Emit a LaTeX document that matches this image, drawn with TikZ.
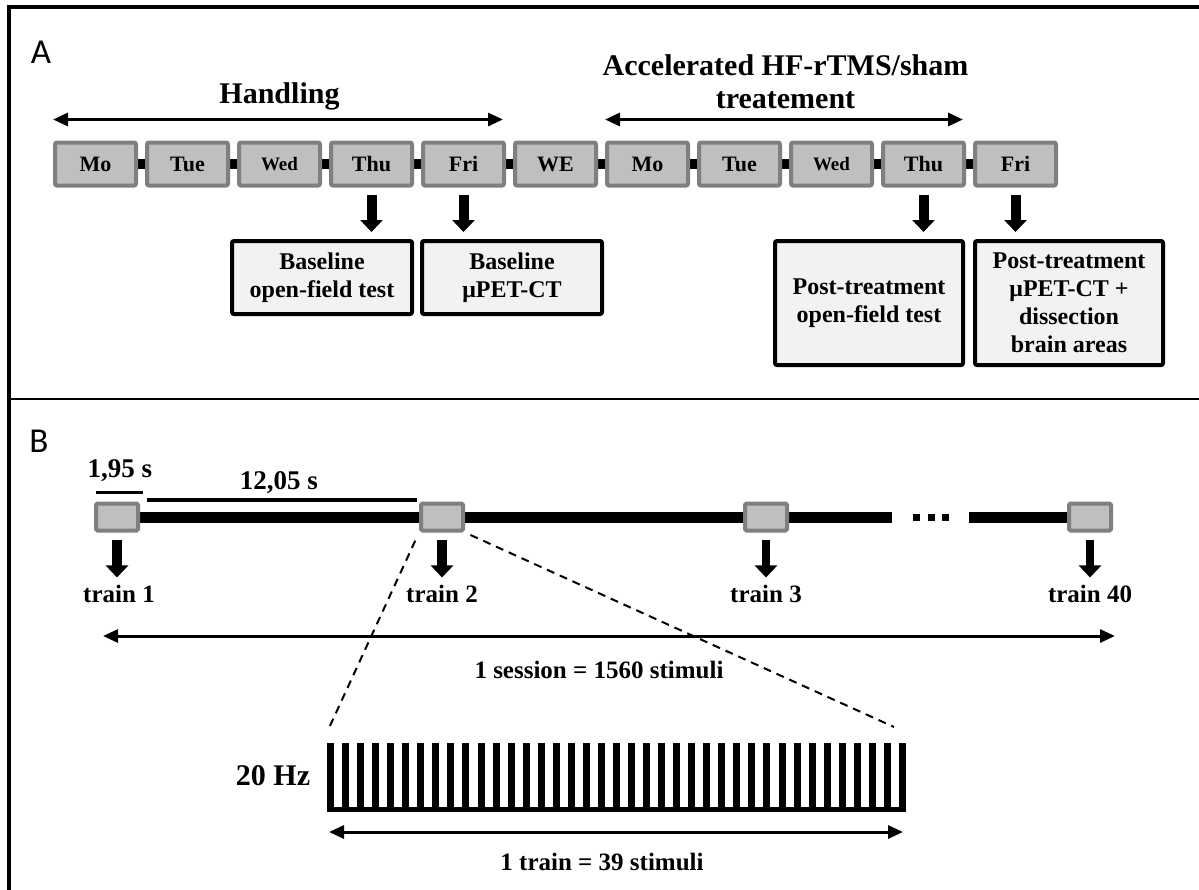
\documentclass[tikz,border=0pt]{standalone}
\usepackage{fontspec}
\setmainfont{Liberation Serif}
\newfontfamily\panelfont{Carlito}
\usetikzlibrary{arrows.meta, calc, backgrounds}

\definecolor{boxGray}{RGB}{191,191,191}
\definecolor{edgeGray}{RGB}{127,127,127}
\definecolor{paleGray}{RGB}{242,242,242}
\newcommand{\wedsize}{\fontsize{19}{20}\selectfont}

\begin{document}
\begin{tikzpicture}[x=1pt, y=-1pt,
  every node/.style={font=\bfseries},
  panelLbl/.style={font=\panelfont\fontsize{35}{37}\selectfont, inner sep=0pt},
  dayBox/.style={draw=edgeGray, fill=boxGray, line width=4pt, rounded corners=2pt, minimum width=81pt, minimum height=43pt, inner sep=0pt, font=\fontsize{22}{24}\selectfont\bfseries},
  eventBox/.style={draw=black, fill=paleGray, line width=4pt, rounded corners=2pt, align=center, inner sep=0pt, font=\fontsize{24}{28}\selectfont\bfseries},
  trainBox/.style={draw=edgeGray, fill=boxGray, line width=4pt, rounded corners=1.5pt, minimum width=42pt, minimum height=27pt, inner sep=0pt},
  bigArrow/.style={line width=3pt, {Triangle[length=15pt,width=13pt]}-{Triangle[length=15pt,width=13pt]}},
  downArrow/.style={line width=10pt, -{Triangle[length=12pt,width=22pt]}, shorten <=7pt, shorten >=7pt},
  zoomLine/.style={line width=2pt, dash pattern=on 8pt off 6pt},
  bigLbl/.style={font=\fontsize{30}{32}\selectfont\bfseries, inner sep=0pt},
  smallLbl/.style={font=\fontsize{25}{28}\selectfont\bfseries, inner sep=0pt}]
  \useasboundingbox (0,0) rectangle (1199,889);
  \clip (0,0) rectangle (1199,889);

  % frame
  \draw[line width=4pt] (9,895) -- (9,7) -- (1205,7);
  \draw[line width=2pt] (9,399) -- (1205,399);
  \node[panelLbl] (lblA) at (41,52) {A};
  \node[panelLbl] (lblB) at (39,441) {B};

  % A: week schedule
  \foreach \d [count=\i] in {Mo,Tue,{\wedsize Wed},Thu,Fri,WE,Mo,Tue,{\wedsize Wed},Thu,Fri}
    \node[dayBox] (d\i) at ({95.5+92*(\i-1)},164) {\d};
  \begin{scope}[on background layer]
    \draw[line width=10pt] (d1.center) -- (d11.center);
  \end{scope}

  \draw[bigArrow] ($(d1.north west)+(0,-21)$) -- ($(d5.north east)+(-3,-21)$);
  \node[bigLbl, anchor=base] (handling) at ($(d1.north west)!0.5!(d5.north east)+(0,-37.5)$) {Handling};
  \draw[bigArrow] ($(d7.north west)+(0,-21)$) -- ($(d10.north east)+(-3,-21)$);
  \node[bigLbl, align=center] (treatment) at ($(d7.north west)!0.5!(d10.north east)+(0,-58.5)$) {Accelerated HF-rTMS/sham\\[1pt]treatement};

  \node[eventBox, minimum width=180pt, minimum height=73pt] (e1) at (322,277.5) {Baseline\\open-field test};
  \node[eventBox, minimum width=180pt, minimum height=73pt] (e2) at (512,277.5) {Baseline\\μPET-CT};
  \node[eventBox, minimum width=188pt, minimum height=124pt] (e3) at (869,303) {Post-treatment\\open-field test};
  \node[eventBox, minimum width=188pt, minimum height=124pt] (e4) at (1069,303) {Post-treatment\\μPET-CT +\\dissection\\brain areas};

  \draw[downArrow] (d4.south) -- (d4.south |- e1.north);
  \draw[downArrow] (d5.south) -- (d5.south |- e2.north);
  \draw[downArrow] (d10.south) -- (d10.south |- e3.north);
  \draw[downArrow] (d11.south) -- (d11.south |- e4.north);

  % B: session of trains
  \node[trainBox] (train1) at (117,517) {};
  \node[trainBox] (train2) at (442,517) {};
  \node[trainBox] (train3) at (766,517) {};
  \node[trainBox] (train40) at (1090,517) {};
  \coordinate (gapL) at (892,517);
  \coordinate (gapR) at (969,517);
  \begin{scope}[on background layer]
    \draw[line width=11pt] (train1.center) -- (train3.center) -- (gapL);
    \draw[line width=11pt] (gapR) -- (train40.center);
  \end{scope}
  \foreach \x in {916,931,945}
    \fill (\x-3.5,513.5) rectangle ++(7,7);

  \draw[line width=3pt] (96,492) -- (143,492);
  \node[font=\fontsize{27}{29}\selectfont\bfseries, inner sep=0pt] (shortLbl) at (120,471) {1,95 s};
  \draw[line width=4pt] (147,500) -- (417,500);
  \node[font=\fontsize{27}{29}\selectfont\bfseries, inner sep=0pt] (longLbl) at (279,483) {12,05 s};

  \node[smallLbl, anchor=base] (lbl1) at (119,602) {train 1};
  \node[smallLbl, anchor=base] (lbl2) at (442,602) {train 2};
  \node[smallLbl, anchor=base] (lbl3) at (766,602) {train 3};
  \node[smallLbl, anchor=base] (lbl40) at (1090,602) {train 40};
  \draw[downArrow] (train1.south) -- (train1.south |- lbl1.north);
  \draw[downArrow] (train2.south) -- (train2.south |- lbl2.north);
  \draw[downArrow, line width=8pt] (train3.south) -- (train3.south |- lbl3.north);
  \draw[downArrow, line width=8pt] (train40.south) -- (train40.south |- lbl40.north);

  \coordinate (sessL) at (103,636);
  \coordinate (sessR) at (1115,636);
  \draw[bigArrow] (sessL) -- (sessR);
  \node[smallLbl, anchor=base] (sessionLbl) at (599,678) {1 session = 1560 stimuli};

  % zoom on one train
  \coordinate (combL) at (329,728);
  \coordinate (combR) at (894,727);
  \draw[zoomLine, shorten <=9pt] (train2.south west) -- (combL);
  \draw[zoomLine, shorten <=6pt] (train2.south east) -- (combR);
  \fill (327,807) rectangle (906,812);
  \foreach \i in {0,...,38}
    \fill ({327+15.05*\i},743) rectangle ++(7,69);
  \node[bigLbl] (freqLbl) at (273,776) {20 Hz};

  \coordinate (trainL) at (329,832);
  \coordinate (trainR) at (903,832);
  \draw[bigArrow] (trainL) -- (trainR);
  \node[smallLbl, anchor=base] (trainLbl) at (602,870) {1 train = 39 stimuli};
\end{tikzpicture}
\end{document}
